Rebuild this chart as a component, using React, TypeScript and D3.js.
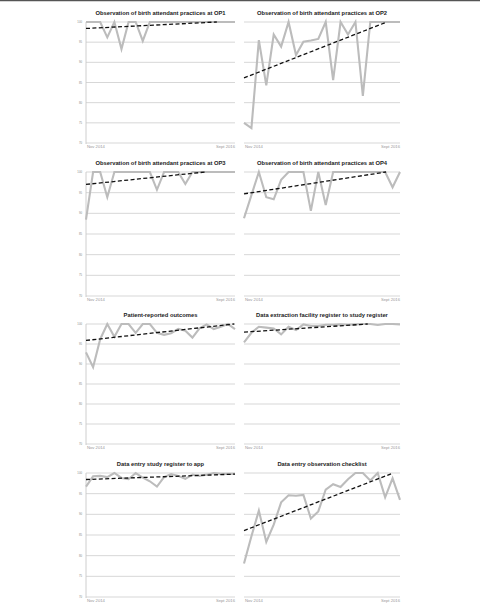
import React from "react";
import * as d3 from "d3";

const xLabels = ["Nov 2014", "Sept 2016"];
const yTicks = [70, 75, 80, 85, 90, 95, 100];

const titles = [
  "Observation of birth attendant practices at OP1",
  "Observation of birth attendant practices at OP2",
  "Observation of birth attendant practices at OP3",
  "Observation of birth attendant practices at OP4",
  "Patient-reported outcomes",
  "Data extraction facility register to study register",
  "Data entry study register to app",
  "Data entry observation checklist",
];

const op1 = [100, 100, 100, 96.2, 100, 93.3, 100, 100, 95.3, 100, 100, 100, 100, 100, 100, 100, 100, 100, 100, 100, 100, 100];
const op2 = [75.0, 73.7, 95.5, 84.3, 96.9, 93.9, 100, 91.8, 95.1, 95.4, 95.8, 100, 85.6, 100, 96.9, 100, 81.7, 100, 100, 100, 100, 100];
const op3 = [88.5, 100, 100, 93.9, 100, 100, 100, 100, 100, 100, 95.7, 100, 100, 100, 97.1, 100, 100, 100, 100, 100, 100, 100];
const op4 = [88.8, 94.4, 100, 93.9, 93.4, 98.1, 100, 100, 100, 90.6, 100, 92.0, 100, 100, 100, 100, 100, 100, 100, 100, 96.3, 100];
const patientReported = [92.9, 89.2, 96.2, 100, 96.8, 100, 100, 97.8, 100, 100, 97.8, 97.3, 97.7, 98.8, 98.3, 96.6, 98.9, 99.9, 98.75, 99.3, 100, 98.7];
const dataExtraction = [95.4, 97.8, 99.3, 99.1, 98.9, 97.4, 99.3, 98.5, 99.9, 99.5, 99.5, 99.8, 99.8, 99.9, 99.8, 99.9, 100, 100, 99.75, 100, 100, 99.9];
const appEntry = [96.7, 99.2, 99.3, 99.0, 100, 98.8, 98.5, 100, 98.9, 98.0, 96.7, 99.0, 99.75, 99.3, 98.6, 99.6, 99.3, 99.6, 100, 99.8, 99.8, 99.8];
const checklist = [78.1, 84.7, 90.9, 83.3, 87.5, 92.9, 94.6, 94.5, 94.7, 89.0, 90.7, 96.0, 97.3, 96.6, 98.5, 100, 100, 98.2, 100, 94.1, 98.7, 93.5];

const series = [op1, op2, op3, op4, patientReported, dataExtraction, appEntry, checklist];

// layout
const colX = [
  [86, 235],
  [244, 400],
];
const rowY = [
  [22, 143],
  [172, 296],
  [324, 444],
  [473, 597],
];

function regression(vals: number[]) {
  const n = vals.length;
  const xs = d3.range(n);
  const mx = d3.mean(xs) as number;
  const my = d3.mean(vals) as number;
  let sxy = 0, sxx = 0;
  xs.forEach((x, i) => {
    sxy += (x - mx) * (vals[i] - my);
    sxx += (x - mx) * (x - mx);
  });
  const slope = sxy / sxx;
  const intercept = my - slope * mx;
  return { slope, intercept };
}

function Panel({ idx }: { idx: number }) {
  const col = idx % 2;
  const row = Math.floor(idx / 2);
  const [x0, x1] = colX[col];
  const [y0, y1] = rowY[row];
  const vals = series[idx];
  const n = vals.length;
  const x = d3.scaleLinear().domain([0, n - 1]).range([x0, x1]);
  const y = d3.scaleLinear().domain([70, 100]).range([y1, y0]);
  const line = d3
    .line<number>()
    .x((_, i) => x(i))
    .y((d) => y(d));
  const { slope, intercept } = regression(vals);
  let kEnd = n - 1;
  if (intercept + slope * kEnd > 100 && slope > 0) kEnd = (100 - intercept) / slope;
  const trend: [number, number][] = [
    [0, intercept],
    [kEnd, intercept + slope * kEnd],
  ];
  const tLine = d3
    .line<[number, number]>()
    .x((d) => x(d[0]))
    .y((d) => y(d[1]));
  const left = col === 0;
  return (
    <g>
      <text
        x={(x0 + x1) / 2}
        y={y0 - 7}
        textAnchor="middle"
        fontFamily="'Liberation Sans', Arial, sans-serif"
        fontWeight="bold"
        fontSize={5.8}
        fill="#222"
      >
        {titles[idx]}
      </text>
      {yTicks.map((t) => (
        <g key={t}>
          <line x1={x0} x2={x1} y1={y(t)} y2={y(t)} stroke="#d2d2d2" strokeWidth={0.9} />
          {left && (
            <text
              x={x0 - 4}
              y={y(t) + 1}
              textAnchor="end"
              fontFamily="'Liberation Sans', Arial, sans-serif"
              fontSize={2.8}
              fill="#888"
            >
              {t}
            </text>
          )}
        </g>
      ))}
      {left && <line x1={x0} x2={x0} y1={y0} y2={y1 + 1} stroke="#c8c8c8" strokeWidth={0.9} />}
      <text
        x={x0 + 1}
        y={y1 + 5.2}
        fontFamily="'Liberation Sans', Arial, sans-serif"
        fontSize={4.2}
        fill="#999"
      >
        {xLabels[0]}
      </text>
      <text
        x={x1}
        y={y1 + 5.2}
        textAnchor="end"
        fontFamily="'Liberation Sans', Arial, sans-serif"
        fontSize={4.2}
        fill="#999"
      >
        {xLabels[1]}
      </text>
      <path d={line(vals) || ""} fill="none" stroke="#bcbcbc" strokeWidth={2.1} strokeLinejoin="miter" />
      <path d={tLine(trend) || ""} fill="none" stroke="#111" strokeWidth={1.3} strokeDasharray="4,2.4" />
    </g>
  );
}

export default function App() {
  return (
    <svg
      width={480}
      height={603}
      style={{ position: "absolute", left: 0, top: 0, background: "#fff" }}
    >
      <rect x={0} y={0} width={480} height={603} fill="#fff" />
      <line x1={0} x2={480} y1={0.6} y2={0.6} stroke="#555" strokeWidth={1.2} />
      {series.map((_, i) => (
        <Panel key={i} idx={i} />
      ))}
    </svg>
  );
}
